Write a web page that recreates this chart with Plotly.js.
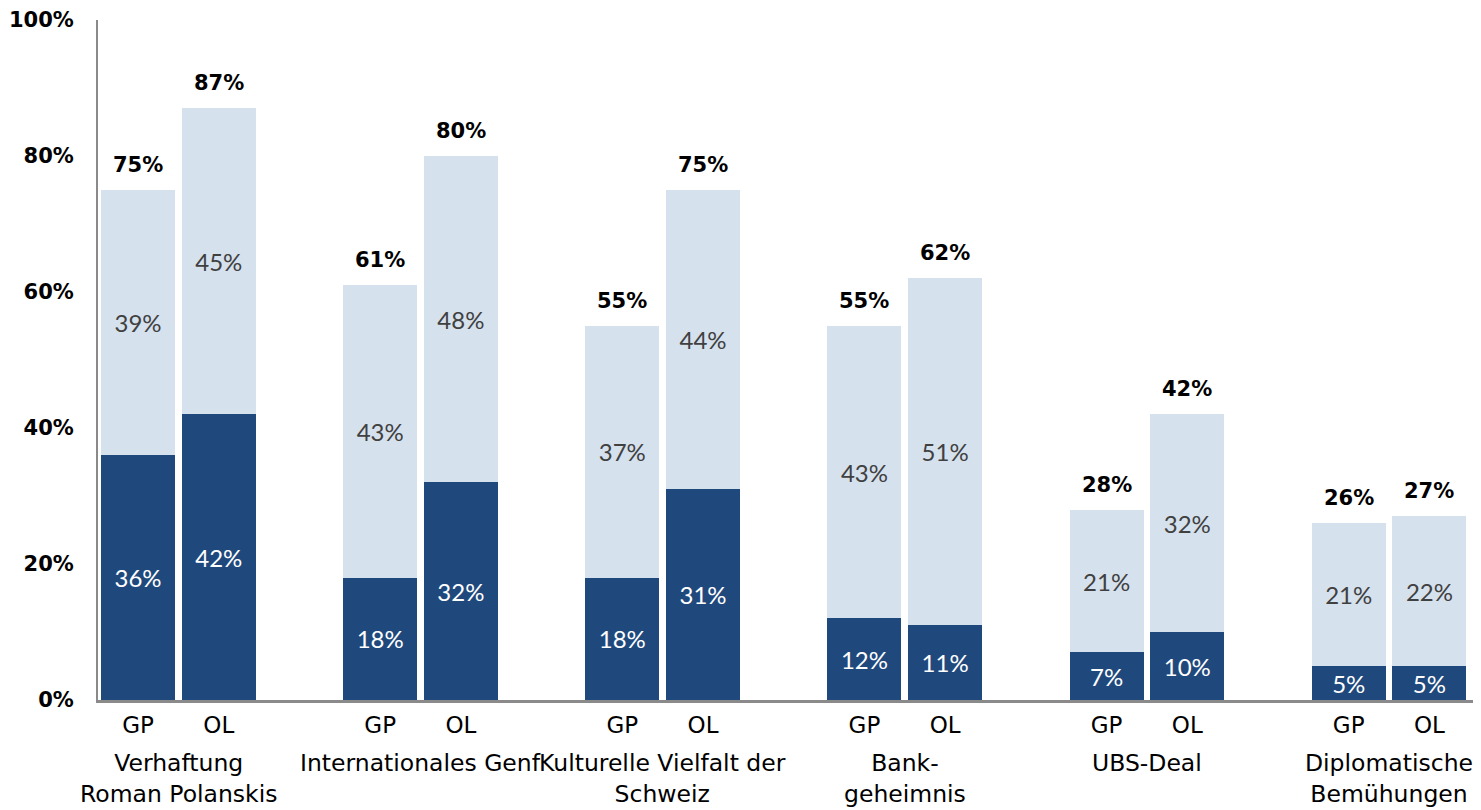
<!DOCTYPE html>
<html>
<head>
<meta charset="utf-8">
<script src="https://cdn.plot.ly/plotly-3.0.1.min.js"></script>
<style>html,body{margin:0;padding:0;background:#fff;}#chart{width:1481px;height:810px;}</style>
</head>
<body>
<div id="chart"></div>
<script>
const groups = ["Verhaftung<br>Roman Polanskis", "Internationales Genf", "Kulturelle Vielfalt der<br>Schweiz", "Bank-<br>geheimnis", "UBS-Deal", "Diplomatische<br>Bemühungen"];
const seriesLabels = ["GP", "OL"];
const gpDark  = [36, 18, 18, 12, 7, 5];
const gpLight = [39, 43, 37, 43, 21, 21];
const gpTotal = [75, 61, 55, 55, 28, 26];
const olDark  = [42, 32, 31, 11, 10, 5];
const olLight = [45, 48, 44, 51, 32, 22];
const olTotal = [87, 80, 75, 62, 42, 27];
const yTicks = [0, 20, 40, 60, 80, 100];

const x = [], dark = [], light = [], total = [], tickText = [];
groups.forEach((g, i) => {
  x.push(3 * i, 3 * i + 1);
  dark.push(gpDark[i], olDark[i]);
  light.push(gpLight[i], olLight[i]);
  total.push(gpTotal[i], olTotal[i]);
  tickText.push(seriesLabels[0], seriesLabels[1]);
});

const barW = 0.917;
const darkTrace = {
  type: 'bar', x: x, y: dark, width: barW,
  marker: {color: '#1F497D', line: {width: 0}},
  text: dark.map(v => v + '%'), textposition: 'inside', insidetextanchor: 'middle',
  textangle: 0, constraintext: 'none',
  textfont: {family: 'Lato, sans-serif', size: 24, color: '#ffffff'},
  hoverinfo: 'skip', showlegend: false
};
const lightTrace = {
  type: 'bar', x: x, y: light, width: barW,
  marker: {color: '#D6E1EE', line: {width: 0}},
  text: light.map(v => v + '%'), textposition: 'inside', insidetextanchor: 'middle',
  textangle: 0, constraintext: 'none',
  textfont: {family: 'Lato, sans-serif', size: 24, color: '#404040'},
  hoverinfo: 'skip', showlegend: false
};

const annotations = [];
x.forEach((xv, k) => {
  annotations.push({
    x: xv, y: total[k], xref: 'x', yref: 'y', text: total[k] + '%',
    showarrow: false, yanchor: 'bottom', yshift: 11,
    font: {family: 'DejaVu Sans, sans-serif', size: 21, color: '#000', weight: 'bold'}
  });
});
groups.forEach((g, i) => {
  annotations.push({
    x: 3 * i + 0.5, y: 0, xref: 'x', yref: 'paper', text: g,
    showarrow: false, yanchor: 'top', yshift: -47, align: 'center',
    font: {family: 'DejaVu Sans, sans-serif', size: 23.5, color: '#000'}
  });
});

const layout = {
  width: 1481, height: 810,
  margin: {l: 98, r: 8, t: 20, b: 110},
  paper_bgcolor: '#fff', plot_bgcolor: '#fff',
  barmode: 'stack',
  showlegend: false,
  xaxis: {
    range: [-0.496, 16.54], tickvals: x, ticktext: tickText,
    showgrid: false, zeroline: false, showline: true, linecolor: '#8a8a8a', linewidth: 3,
    ticks: 'outside', ticklen: 2, tickcolor: 'rgba(0,0,0,0)',
    tickfont: {family: 'DejaVu Sans, sans-serif', size: 23, color: '#000'},
    fixedrange: true
  },
  yaxis: {
    range: [0, 100], tickvals: yTicks, ticktext: yTicks.map(v => v + '%'),
    showgrid: false, zeroline: false, showline: true, linecolor: '#8a8a8a', linewidth: 2,
    ticks: 'outside', ticklen: 18, tickcolor: 'rgba(0,0,0,0)',
    tickfont: {family: 'DejaVu Sans, sans-serif', size: 21, color: '#000', weight: 'bold'},
    fixedrange: true
  },
  annotations: annotations
};

Plotly.newPlot('chart', [darkTrace, lightTrace], layout, {displayModeBar: false, staticPlot: true});
</script>
</body>
</html>
